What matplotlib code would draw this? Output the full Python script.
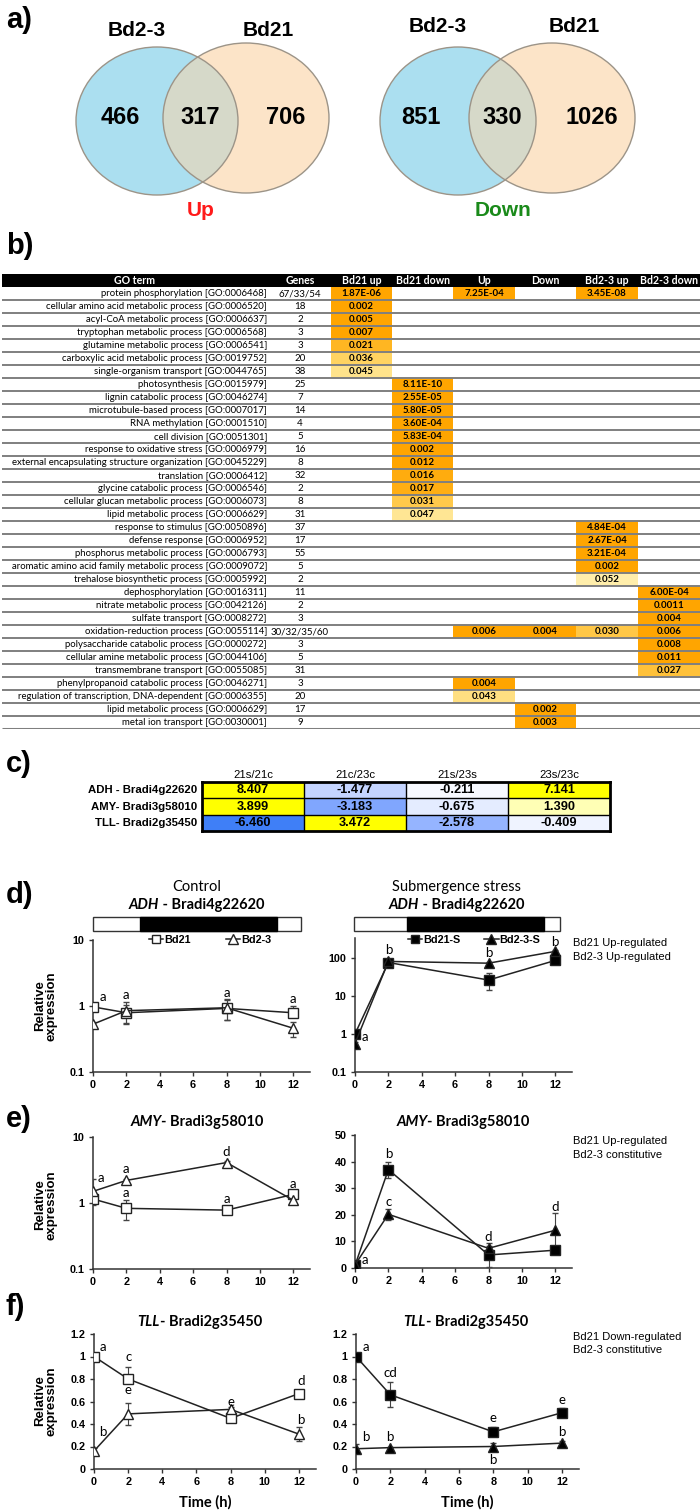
import numpy as np
import matplotlib
matplotlib.use('Agg')
import matplotlib.pyplot as plt
from matplotlib.patches import Ellipse, Rectangle
from matplotlib.colors import LinearSegmentedColormap, Normalize
from matplotlib.ticker import FixedLocator, FixedFormatter, NullLocator
from matplotlib.lines import Line2D
from matplotlib import font_manager as fm

# ---------------- data ----------------
venn_sets = ['Bd2-3', 'Bd21']
venn_up = [466, 317, 706]
venn_down = [851, 330, 1026]

go_header = ['GO term', 'Genes', 'Bd21 up', 'Bd21 down', 'Up', 'Down', 'Bd2-3 up', 'Bd2-3 down']
go_terms = [
    'protein phosphorylation [GO:0006468]',
    'cellular amino acid metabolic process [GO:0006520]',
    'acyl-CoA metabolic process [GO:0006637]',
    'tryptophan metabolic process [GO:0006568]',
    'glutamine metabolic process [GO:0006541]',
    'carboxylic acid metabolic process [GO:0019752]',
    'single-organism transport [GO:0044765]',
    'photosynthesis [GO:0015979]',
    'lignin catabolic process [GO:0046274]',
    'microtubule-based process [GO:0007017]',
    'RNA methylation [GO:0001510]',
    'cell division [GO:0051301]',
    'response to oxidative stress [GO:0006979]',
    'external encapsulating structure organization [GO:0045229]',
    'translation [GO:0006412]',
    'glycine catabolic process [GO:0006546]',
    'cellular glucan metabolic process [GO:0006073]',
    'lipid metabolic process [GO:0006629]',
    'response to stimulus [GO:0050896]',
    'defense response [GO:0006952]',
    'phosphorus metabolic process [GO:0006793]',
    'aromatic amino acid family metabolic process [GO:0009072]',
    'trehalose biosynthetic process [GO:0005992]',
    'dephosphorylation [GO:0016311]',
    'nitrate metabolic process [GO:0042126]',
    'sulfate transport [GO:0008272]',
    'oxidation-reduction process [GO:0055114]',
    'polysaccharide catabolic process [GO:0000272]',
    'cellular amine metabolic process [GO:0044106]',
    'transmembrane transport [GO:0055085]',
    'phenylpropanoid catabolic process [GO:0046271]',
    'regulation of transcription, DNA-dependent [GO:0006355]',
    'lipid metabolic process [GO:0006629]',
    'metal ion transport [GO:0030001]',
]
go_genes = ['67/33/54', '18', '2', '3', '3', '20', '38', '25', '7', '14', '4', '5', '16', '8',
            '32', '2', '8', '31', '37', '17', '55', '5', '2', '11', '2', '3', '30/32/35/60',
            '3', '5', '31', '3', '20', '17', '9']
# column index: 0 Bd21 up, 1 Bd21 down, 2 Up, 3 Down, 4 Bd2-3 up, 5 Bd2-3 down
go_pvalues = [
    {0: '1.87E-06', 2: '7.25E-04', 4: '3.45E-08'},
    {0: '0.002'}, {0: '0.005'}, {0: '0.007'}, {0: '0.021'}, {0: '0.036'}, {0: '0.045'},
    {1: '8.11E-10'}, {1: '2.55E-05'}, {1: '5.80E-05'}, {1: '3.60E-04'}, {1: '5.83E-04'},
    {1: '0.002'}, {1: '0.012'}, {1: '0.016'}, {1: '0.017'}, {1: '0.031'}, {1: '0.047'},
    {4: '4.84E-04'}, {4: '2.67E-04'}, {4: '3.21E-04'}, {4: '0.002'}, {4: '0.052'},
    {5: '6.00E-04'}, {5: '0.0011'}, {5: '0.004'},
    {2: '0.006', 3: '0.004', 4: '0.030', 5: '0.006'},
    {5: '0.008'}, {5: '0.011'}, {5: '0.027'},
    {2: '0.004'}, {2: '0.043'},
    {3: '0.002'}, {3: '0.003'},
]

heat_cols = ['21s/21c', '21c/23c', '21s/23s', '23s/23c']
heat_rows = ['ADH - Bradi4g22620', 'AMY- Bradi3g58010', 'TLL- Bradi2g35450']
heat_vals = np.array([[8.407, -1.477, -0.211, 7.141],
                      [3.899, -3.183, -0.675, 1.390],
                      [-6.460, 3.472, -2.578, -0.409]])

time_h = [0, 2, 8, 12]
# d) ADH  (errors given as [lower, upper])
adh_ctrl_bd21 = [0.97, 0.79, 0.92, 0.79]
adh_ctrl_bd21_err = [[0.05, 0.25, 0.30, 0.05], [0.05, 0.25, 0.30, 0.20]]
adh_ctrl_bd23 = [0.53, 0.85, 0.94, 0.46]
adh_ctrl_bd23_err = [[0.04, 0.30, 0.33, 0.12], [0.04, 0.30, 0.33, 0.12]]
adh_sub_bd21 = [1.0, 75, 26, 85]
adh_sub_bd21_err = [[0.05, 12, 12, 12], [0.05, 12, 14, 12]]
adh_sub_bd23 = [0.56, 80, 72, 147]
adh_sub_bd23_err = [[0.05, 8, 6, 15], [0.05, 8, 6, 15]]
# e) AMY
amy_ctrl_bd21 = [1.15, 0.83, 0.78, 1.35]
amy_ctrl_bd21_err = [[0.22, 0.28, 0.05, 0.10], [0.22, 0.28, 0.05, 0.10]]
amy_ctrl_bd23 = [1.5, 2.2, 4.1, 1.1]
amy_ctrl_bd23_err = [[0.1, 0.12, 0.2, 0.1], [0.8, 0.12, 0.2, 0.1]]
amy_sub_bd21 = [1.0, 37, 4.9, 6.7]
amy_sub_bd21_err = [[0.2, 3.0, 4.4, 1.0], [0.2, 3.0, 4.4, 1.0]]
amy_sub_bd23 = [1.2, 20.2, 7.4, 14.2]
amy_sub_bd23_err = [[0.2, 2.0, 1.0, 6.3], [0.2, 2.0, 1.0, 6.3]]
# f) TLL
tll_ctrl_bd21 = [1.0, 0.80, 0.45, 0.67]
tll_ctrl_bd21_err = [[0.01, 0.02, 0.02, 0.02], [0.01, 0.11, 0.02, 0.02]]
tll_ctrl_bd23 = [0.16, 0.49, 0.53, 0.31]
tll_ctrl_bd23_err = [[0.03, 0.10, 0.02, 0.06], [0.03, 0.10, 0.02, 0.06]]
tll_sub_bd21 = [1.0, 0.66, 0.33, 0.50]
tll_sub_bd21_err = [[0.01, 0.11, 0.04, 0.04], [0.01, 0.11, 0.04, 0.04]]
tll_sub_bd23 = [0.18, 0.19, 0.20, 0.23]
tll_sub_bd23_err = [[0.04, 0.01, 0.03, 0.02], [0.04, 0.01, 0.03, 0.02]]

# significance letters: (time, y, text)
letters_d_ctrl = [(0.6, 1.37, 'a'), (2, 1.47, 'a'), (8, 1.57, 'a'), (12, 1.28, 'a')]
letters_d_sub = [(0.6, 0.85, 'a'), (2, 162, 'b'), (8, 135, 'b'), (12, 263, 'b')]
letters_e_ctrl = [(0.5, 2.4, 'a'), (2, 3.3, 'a'), (2, 1.4, 'a'), (8, 5.9, 'd'), (8, 1.15, 'a'), (12, 1.93, 'a')]
letters_e_sub = [(0.6, 3.0, 'a'), (2, 43, 'b'), (2, 24.7, 'c'), (8, 11.6, 'd'), (12, 22.8, 'd')]
letters_f_ctrl = [(0.5, 1.085, 'a'), (0.5, 0.33, 'b'), (2, 0.995, 'c'), (2, 0.70, 'e'),
                  (8, 0.60, 'e'), (12.1, 0.78, 'd'), (12.1, 0.435, 'b')]
letters_f_sub = [(0.6, 1.085, 'a'), (2, 0.85, 'cd'), (8, 0.45, 'e'), (12, 0.61, 'e'),
                 (0.55, 0.285, 'b'), (2, 0.285, 'b'), (8, 0.08, 'b'), (12, 0.33, 'b')]

# ---------------- fonts ----------------
names = {f.name for f in fm.fontManager.ttflist}
ARIAL = 'Liberation Sans' if 'Liberation Sans' in names else 'DejaVu Sans'
NARROW = 'Liberation Sans Narrow' if 'Liberation Sans Narrow' in names else ARIAL
CAL = 'Lato' if 'Lato' in names else 'DejaVu Sans'
plt.rcParams['font.family'] = [ARIAL, 'DejaVu Sans']

W, H = 700, 1511
fig = plt.figure(figsize=(7, 15.11), dpi=100)


def px_axes(x0, y0, x1, y1):
    return fig.add_axes([x0 / W, 1 - y1 / H, (x1 - x0) / W, (y1 - y0) / H])


bg = fig.add_axes([0, 0, 1, 1])
bg.set_xlim(0, W)
bg.set_ylim(H, 0)
bg.axis('off')

# panel labels
for lab, y in [('a)', 20), ('b)', 246), ('c)', 764), ('d)', 895), ('e)', 1119), ('f)', 1307)]:
    bg.text(6, y, lab, fontsize=21, fontweight='bold', family=ARIAL, ha='left', va='center')

# ---------------- a) Venn ----------------
BLUE, BEIGE, OVER, EDGE = '#abdff0', '#fce4c8', '#d6d9c9', '#9c9488'


def venn(cl, cr, counts, word, wcolor, lab_y):
    (lx, ly, lw_, lh), (rx, ry, rw, rh) = cl, cr
    e1 = Ellipse((lx, ly), lw_, lh, fc=BLUE, ec='none', zorder=1)
    e2 = Ellipse((rx, ry), rw, rh, fc=BEIGE, ec='none', zorder=2)
    bg.add_patch(e1)
    bg.add_patch(e2)
    eo = Ellipse((lx, ly), lw_, lh, fc=OVER, ec='none', zorder=3)
    bg.add_patch(eo)
    eo.set_clip_path(e2)
    for e in [(lx, ly, lw_, lh), (rx, ry, rw, rh)]:
        bg.add_patch(Ellipse((e[0], e[1]), e[2], e[3], fc='none', ec=EDGE, lw=1.0, zorder=4))
    bg.text(lx - 20, lab_y, venn_sets[0], fontsize=15, fontweight='bold', ha='center', va='center')
    bg.text(rx + 22, lab_y, venn_sets[1], fontsize=15, fontweight='bold', ha='center', va='center')
    xs = [lx - 37, (lx + lw_ / 2 + rx - rw / 2) / 2, rx + 40]
    for x, n in zip(xs, counts):
        bg.text(x, 117, str(n), fontsize=17, fontweight='bold', family=NARROW, ha='center', va='center', zorder=5)
    bg.text(xs[1], 210, word, fontsize=15, fontweight='bold', family=NARROW, color=wcolor, ha='center', va='center')


venn((157, 121, 162, 148), (246, 118, 166, 150), venn_up, 'Up', '#ff1a1a', 30)
venn((458, 121, 156, 148), (552, 118, 166, 150), venn_down, 'Down', '#1a8a1a', 27)

# ---------------- b) GO table ----------------
nrows = len(go_terms)
tb = px_axes(2, 274, 700, 729)
tb.set_xlim(2, 700)
tb.set_ylim(nrows + 1, 0)
tb.axis('off')
col_edges = [331, 392, 453, 515, 576, 638, 700]
tb.add_patch(Rectangle((2, 0), 698, 1, fc='black', ec='none'))
hdr_x = [135, 300] + [(col_edges[i] + col_edges[i + 1]) / 2 for i in range(6)]
for x, h in zip(hdr_x, go_header):
    tb.text(x, 0.5, h, color='white', fontsize=7.6, fontweight='bold', family=CAL, ha='center', va='center')

pcmap = LinearSegmentedColormap.from_list('p', ['#ffa500', '#ffbf33', '#ffd970', '#fff0b0'])
pnorm = Normalize(vmin=0.012, vmax=0.053, clip=True)
for i, (term, g, pv) in enumerate(zip(go_terms, go_genes, go_pvalues)):
    y = i + 1
    tb.text(267, y + 0.52, term, fontsize=6.95, family=CAL, ha='right', va='center')
    tb.text(300, y + 0.52, g, fontsize=7.0, family=CAL, ha='center', va='center')
    for c, txt in pv.items():
        tb.add_patch(Rectangle((col_edges[c], y), col_edges[c + 1] - col_edges[c], 1,
                               fc=pcmap(pnorm(float(txt))), ec='none', zorder=1))
        tb.text((col_edges[c] + col_edges[c + 1]) / 2, y + 0.52, txt, fontsize=7.0, fontweight='bold',
                family=CAL, ha='center', va='center', zorder=3)
for i in range(2, nrows + 2):
    tb.plot([2, 700], [i, i], color='#7f7f7f', lw=1.4 if i < nrows + 1 else 2.2, zorder=2,
            solid_capstyle='butt')

# ---------------- c) heat table ----------------
hnodes = [(-6.46, '#3f7ff7'), (-3.0, '#84a9ff'), (-1.5, '#c3d4ff'), (0.0, '#ffffff'),
          (1.5, '#ffffb0'), (3.4, '#ffff00')]
vmin, vmax = hnodes[0][0], hnodes[-1][0]
hcmap = LinearSegmentedColormap.from_list('h', [((v - vmin) / (vmax - vmin), c) for v, c in hnodes])
hnorm = Normalize(vmin=vmin, vmax=vmax, clip=True)
hax = px_axes(202, 782, 610, 831)
hax.imshow(heat_vals, cmap=hcmap, norm=hnorm, aspect='auto', extent=(0, 4, 3, 0), interpolation='nearest')
hax.set_xlim(0, 4)
hax.set_ylim(3, 0)
for i in range(1, 4):
    hax.axvline(i, color='black', lw=1.0)
for j in range(1, 3):
    hax.axhline(j, color='black', lw=1.0)
for s in hax.spines.values():
    s.set_linewidth(2.0)
hax.set_xticks([])
hax.set_yticks([])
for r in range(3):
    for c in range(4):
        hax.text(c + 0.5, r + 0.52, f'{heat_vals[r, c]:.3f}', fontsize=9.2, fontweight='bold',
                 ha='center', va='center')
    hax.text(-0.05, r + 0.52, heat_rows[r], fontsize=8.2, fontweight='bold', ha='right', va='center')
for c in range(4):
    hax.text(c + 0.5, -0.45, heat_cols[c], fontsize=8.2, ha='center', va='center')

# ---------------- d-f) line plots ----------------
rich_titles = []


def gene_title(x, y, ital, rest, size=10.5):
    t1 = bg.text(x, y, ital, fontsize=size, fontweight='bold', style='italic', family=CAL,
                 ha='left', va='center')
    t2 = bg.annotate(rest, xy=(1, 0.5), xycoords=t1, fontsize=size, fontweight='bold', family=CAL,
                     ha='left', va='center')
    rich_titles.append((t1, t2, x))


def style_axes(ax, xlim, ylim, log, yticks, yticklabels):
    ax.set_xlim(*xlim)
    if log:
        ax.set_yscale('log')
    ax.set_ylim(*ylim)
    ax.xaxis.set_major_locator(FixedLocator([0, 2, 4, 6, 8, 10, 12]))
    ax.yaxis.set_major_locator(FixedLocator(yticks))
    ax.yaxis.set_major_formatter(FixedFormatter(yticklabels))
    ax.yaxis.set_minor_locator(NullLocator())
    ax.xaxis.set_minor_locator(NullLocator())
    for s in ['top', 'right']:
        ax.spines[s].set_visible(False)
    for s in ['left', 'bottom']:
        ax.spines[s].set_linewidth(1.1)
        ax.spines[s].set_color('#333333')
    ax.tick_params(length=3, width=1, colors='#333333', labelcolor='black', labelsize=7.8, pad=3)
    for lbl in ax.get_xticklabels() + ax.get_yticklabels():
        lbl.set_fontweight('bold')
    ax.patch.set_alpha(0)


def draw_series(ax, y1, e1, y2, e2, filled):
    fc = 'black' if filled else 'white'
    h1 = ax.errorbar(time_h, y1, yerr=e1, color='#222222', lw=1.1, ecolor='#444444', elinewidth=0.8,
                     capsize=2.2, capthick=0.8, marker='s', ms=6.5, mfc=fc, mec='#222222', mew=1.0, zorder=3)
    h2 = ax.errorbar(time_h, y2, yerr=e2, color='#222222', lw=1.1, ecolor='#444444', elinewidth=0.8,
                     capsize=2.2, capthick=0.8, marker='^', ms=7, mfc=fc, mec='#222222', mew=1.0, zorder=3)
    return h1, h2


def letters(ax, items):
    for t, y, s in items:
        ax.text(t, y, s, fontsize=9.5, family=CAL, ha='center', va='center', zorder=4)


def ylabel(yc):
    bg.text(46, yc, 'Relative\nexpression', rotation=90, fontsize=9.5, fontweight='bold',
            ha='center', va='center', linespacing=1.0)


log_ticks = [0.1, 1, 10, 100]
log_labels = ['0.1', '1', '10', '100']

# d) bars and titles
bg.text(197, 887, 'Control', fontsize=10.5, family=CAL, ha='center', va='center')
bg.text(457, 887, 'Submergence stress', fontsize=10.5, family=CAL, ha='center', va='center')
gene_title(197, 905, 'ADH', ' - Bradi4g22620')
gene_title(457, 905, 'ADH', ' - Bradi4g22620')
for (x0, x1, b0, b1) in [(93, 301, 140, 277), (354, 560, 407, 544)]:
    bg.add_patch(Rectangle((x0, 917), x1 - x0, 14, fc='white', ec='#333333', lw=1))
    bg.add_patch(Rectangle((b0, 917), b1 - b0, 14, fc='black', ec='black', lw=1))

ax = px_axes(93, 940, 310, 1072)
style_axes(ax, (0, 13), (0.1, 10), True, log_ticks[:3], log_labels[:3])
draw_series(ax, adh_ctrl_bd21, adh_ctrl_bd21_err, adh_ctrl_bd23, adh_ctrl_bd23_err, False)
letters(ax, letters_d_ctrl)
lh = [Line2D([], [], color='#222222', lw=1.1, marker='s', ms=6, mfc='white', mec='#222222'),
      Line2D([], [], color='#222222', lw=1.1, marker='^', ms=6.5, mfc='white', mec='#222222')]
ax.legend(lh, ['Bd21', 'Bd2-3'], loc='center', bbox_to_anchor=(0.54, 1.0), ncol=2, frameon=False,
          handlelength=1.3, handletextpad=0.1, columnspacing=3.2, prop={'weight': 'bold', 'size': 7.8})
ylabel(1006)

ax = px_axes(355, 938, 572, 1072)
style_axes(ax, (0, 13), (0.1, 330), True, log_ticks, log_labels)
draw_series(ax, adh_sub_bd21, adh_sub_bd21_err, adh_sub_bd23, adh_sub_bd23_err, True)
letters(ax, letters_d_sub)
lh = [Line2D([], [], color='#222222', lw=1.1, marker='s', ms=6, mfc='black', mec='#222222'),
      Line2D([], [], color='#222222', lw=1.1, marker='^', ms=6.5, mfc='black', mec='#222222')]
ax.legend(lh, ['Bd21-S', 'Bd2-3-S'], loc='center', bbox_to_anchor=(0.55, 0.985), ncol=2, frameon=False,
          handlelength=1.3, handletextpad=0.1, columnspacing=2.2, prop={'weight': 'bold', 'size': 7.8})
bg.text(573, 943, 'Bd21 Up-regulated', fontsize=8, ha='left', va='center')
bg.text(573, 957, 'Bd2-3 Up-regulated', fontsize=8, ha='left', va='center')

# e) AMY
gene_title(197, 1122, 'AMY', '- Bradi3g58010')
gene_title(463, 1122, 'AMY', '- Bradi3g58010')
ax = px_axes(93, 1137, 310, 1269)
style_axes(ax, (0, 13), (0.1, 10), True, log_ticks[:3], log_labels[:3])
draw_series(ax, amy_ctrl_bd21, amy_ctrl_bd21_err, amy_ctrl_bd23, amy_ctrl_bd23_err, False)
letters(ax, letters_e_ctrl)
ylabel(1205)

ax = px_axes(355, 1135, 572, 1268)
style_axes(ax, (0, 13), (0, 50), False, [0, 10, 20, 30, 40, 50], ['0', '10', '20', '30', '40', '50'])
draw_series(ax, amy_sub_bd21, amy_sub_bd21_err, amy_sub_bd23, amy_sub_bd23_err, True)
letters(ax, letters_e_sub)
bg.text(573, 1141, 'Bd21 Up-regulated', fontsize=8, ha='left', va='center')
bg.text(573, 1155, 'Bd2-3 constitutive', fontsize=8, ha='left', va='center')

# f) TLL
gene_title(200, 1322, 'TLL', '- Bradi2g35450')
gene_title(466, 1322, 'TLL', '- Bradi2g35450')
lin_ticks = [0, 0.2, 0.4, 0.6, 0.8, 1.0, 1.2]
lin_labels = ['0', '0.2', '0.4', '0.6', '0.8', '1', '1.2']
ax = px_axes(94, 1334, 316, 1469)
style_axes(ax, (0, 13), (0, 1.2), False, lin_ticks, lin_labels)
draw_series(ax, tll_ctrl_bd21, tll_ctrl_bd21_err, tll_ctrl_bd23, tll_ctrl_bd23_err, False)
letters(ax, letters_f_ctrl)
ylabel(1401)

ax = px_axes(356, 1334, 579, 1469)
style_axes(ax, (0, 13), (0, 1.2), False, lin_ticks, lin_labels)
draw_series(ax, tll_sub_bd21, tll_sub_bd21_err, tll_sub_bd23, tll_sub_bd23_err, True)
letters(ax, letters_f_sub)
bg.text(573, 1337, 'Bd21 Down-regulated', fontsize=8, ha='left', va='center')
bg.text(573, 1350, 'Bd2-3 constitutive', fontsize=8, ha='left', va='center')

bg.text(205, 1502, 'Time (h)', fontsize=10.5, fontweight='bold', family=CAL, ha='center', va='center')
bg.text(467, 1502, 'Time (h)', fontsize=10.5, fontweight='bold', family=CAL, ha='center', va='center')

# center the two-part gene titles
fig.canvas.draw()
for t1, t2, xc in rich_titles:
    b1 = t1.get_window_extent()
    b2 = t2.get_window_extent()
    total = b2.x1 - b1.x0
    t1.set_x(xc - total / 2)

fig.savefig('out.png', dpi=100)
